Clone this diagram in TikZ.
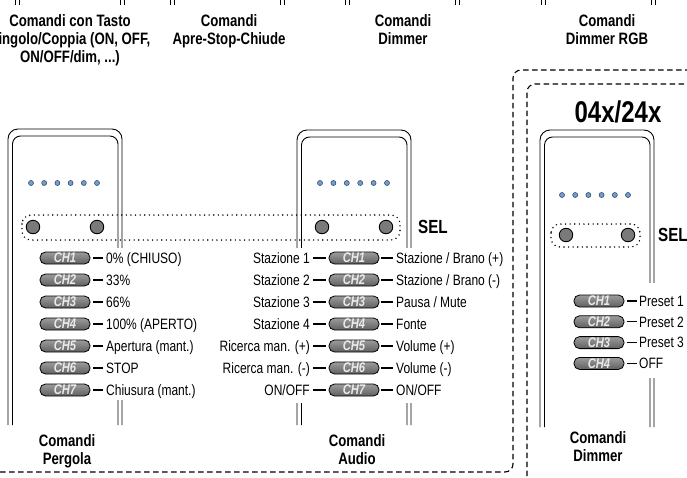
\documentclass[tikz,border=0pt]{standalone}
\usepackage{fontspec}
\setmainfont{Liberation Sans}[FakeStretch=0.8]
\definecolor{ledblue}{HTML}{6E9FD6}
\definecolor{ledrim}{HTML}{3A4A60}
\definecolor{btngray}{HTML}{7A7A7A}
\definecolor{pilltop}{HTML}{9C9C9C}
\definecolor{pillbot}{HTML}{606060}
\definecolor{pilltext}{HTML}{EAEAEA}

% outline of a remote body: double rounded line, open at the bottom
\newcommand\remotebody[4]{%
  \draw[rline, rounded corners=10] (#1,#4) -- (#1,#3) -- (#2,#3) -- (#2,#4);
  \draw[rline, rounded corners=8] (#1+4.5,#4) -- (#1+4.5,#3+7) -- (#2-4,#3+7) -- (#2-4,#4);
}

\begin{document}
\begin{tikzpicture}[x=1pt, y=-1pt,
  rline/.style={line width=0.9, black},
  dashbox/.style={line width=1.1, dash pattern=on 5.5pt off 3.5pt, rounded corners=8},
  selbox/.style={line width=1.6, dash pattern=on 0pt off 4.6pt, line cap=round, rounded corners=9},
  hdr/.style={font=\fontsize{16.5}{18}\selectfont\bfseries, align=center, inner sep=0, anchor=north},
  lbl/.style={font=\fontsize{15}{18}\selectfont, inner sep=0, text height=10.7pt, text depth=0pt},
  selt/.style={font=\fontsize{19}{20}\selectfont\bfseries, inner sep=0, anchor=west},
  led/.style={circle, minimum size=5, inner sep=0, fill=ledblue, draw=ledrim, line width=0.6},
  btn/.style={circle, minimum size=13.5, inner sep=0, fill=btngray, draw=black, line width=0.9},
  pill/.style={draw=black, line width=0.8, rounded corners=5.5, minimum width=50, minimum height=12,
    inner sep=0, top color=pilltop, bottom color=pillbot, text=pilltext,
    font=\fontsize{14}{12}\selectfont\bfseries\itshape},
  tick/.style={line width=1.1, shorten <=3pt, shorten >=3pt}
]
\useasboundingbox (0,0) rectangle (687,477);

% group outlines
\draw[dashbox] (0,472) -- (513,472) -- (513,70) -- (695,70);
\draw[dashbox] (527,485) -- (527,84) -- (695,84);

% lower edges of the remotes in the row above
\foreach \a/\b in {17/122,172/282,347/457,543/653} {
  \draw[rline] (\a-2,0) -- (\a-2,5);
  \draw[rline] (\a+2,0) -- (\a+2,5);
  \draw[rline] (\b-2,0) -- (\b-2,5);
  \draw[rline] (\b+2,0) -- (\b+2,5);
}

% headings of the upper row
\node[hdr] (h1) at (70,14) {Comandi con Tasto\\Singolo/Coppia (ON, OFF,\\ON/OFF/dim, ...)};
\node[hdr] (h2) at (229,14) {Comandi\\Apre-Stop-Chiude};
\node[hdr] (h3) at (403,14) {Comandi\\Dimmer};
\node[hdr] (h4) at (607,14) {Comandi\\Dimmer RGB};

% remote bodies
\remotebody{8}{122}{129}{425}
\remotebody{297}{411}{130}{425}
\remotebody{540}{654}{130}{427}

% clear the body lines behind the label columns
\fill[white] (100,248) rectangle (230,400);
\fill[white] (210,248) rectangle (505,403);
\fill[white] (632,283) rectangle (687,378);

% model name
\node[font=\fontsize{30}{30}\selectfont\bfseries, inner sep=0] (model) at (618,112) {04x/24x};

% status LEDs
\foreach \k in {0,...,5} {
  \node[led] (la\k) at (31+13.2*\k,183) {};
  \node[led] (lb\k) at (320+13.4*\k,183) {};
  \node[led] (lc\k) at (562+13.2*\k,195) {};
}

% SEL keys
\draw[selbox] (22,215) rectangle (400,240);
\node[btn] (ka1) at (33,227) {};
\node[btn] (ka2) at (97,227) {};
\node[btn] (kb1) at (322,227) {};
\node[btn] (kb2) at (386,227) {};
\node[selt] (sel1) at (418,227) {SEL};

\draw[selbox] (551,224) rectangle (640,247);
\node[btn] (kc1) at (566,235) {};
\node[btn] (kc2) at (628,235) {};
\node[selt] (sel2) at (658,235) {SEL};

% Pergola channels
\foreach \i/\t in {1/{0\% (CHIUSO)},2/{33\%},3/{66\%},4/{100\% (APERTO)},
                   5/{Apertura (mant.)},6/{STOP},7/{Chiusura (mant.)}} {
  \node[pill] (p\i) at (65,{258+22*(\i-1)}) {CH\i};
  \node[lbl, anchor=west] (pl\i) at (106,{258+22*(\i-1)}) {\t};
  \draw[tick] (p\i) -- (pl\i);
}

% Audio channels
\foreach \i/\l/\r in {1/{Stazione 1}/{Stazione / Brano (+)},
                      2/{Stazione 2}/{Stazione / Brano (-)},
                      3/{Stazione 3}/{Pausa / Mute},
                      4/{Stazione 4}/{Fonte},
                      5/{Ricerca man. (+)}/{Volume (+)},
                      6/{Ricerca man. (-)}/{Volume (-)},
                      7/{ON/OFF}/{ON/OFF}} {
  \node[pill] (a\i) at (354,{258+22*(\i-1)}) {CH\i};
  \node[lbl, anchor=east] (al\i) at (310,{258+22*(\i-1)}) {\l};
  \node[lbl, anchor=west] (ar\i) at (396,{258+22*(\i-1)}) {\r};
  \draw[tick] (al\i) -- (a\i);
  \draw[tick, shorten <=1.5pt] (a\i) -- (ar\i);
}

% Dimmer channels
\foreach \i/\t in {1/{Preset 1},2/{Preset 2},3/{Preset 3},4/{OFF}} {
  \node[pill] (d\i) at (599,{301+20.8*(\i-1)}) {CH\i};
  \node[lbl, anchor=west] (dl\i) at (639,{301+20.8*(\i-1)}) {\t};
  \draw[tick, shorten >=2pt] (d\i) -- (dl\i);
}

% headings of the lower row
\node[hdr] (b1) at (67,434) {Comandi\\Pergola};
\node[hdr] (b2) at (357,434) {Comandi\\Audio};
\node[hdr] (b3) at (598,431) {Comandi\\Dimmer};
\end{tikzpicture}
\end{document}
